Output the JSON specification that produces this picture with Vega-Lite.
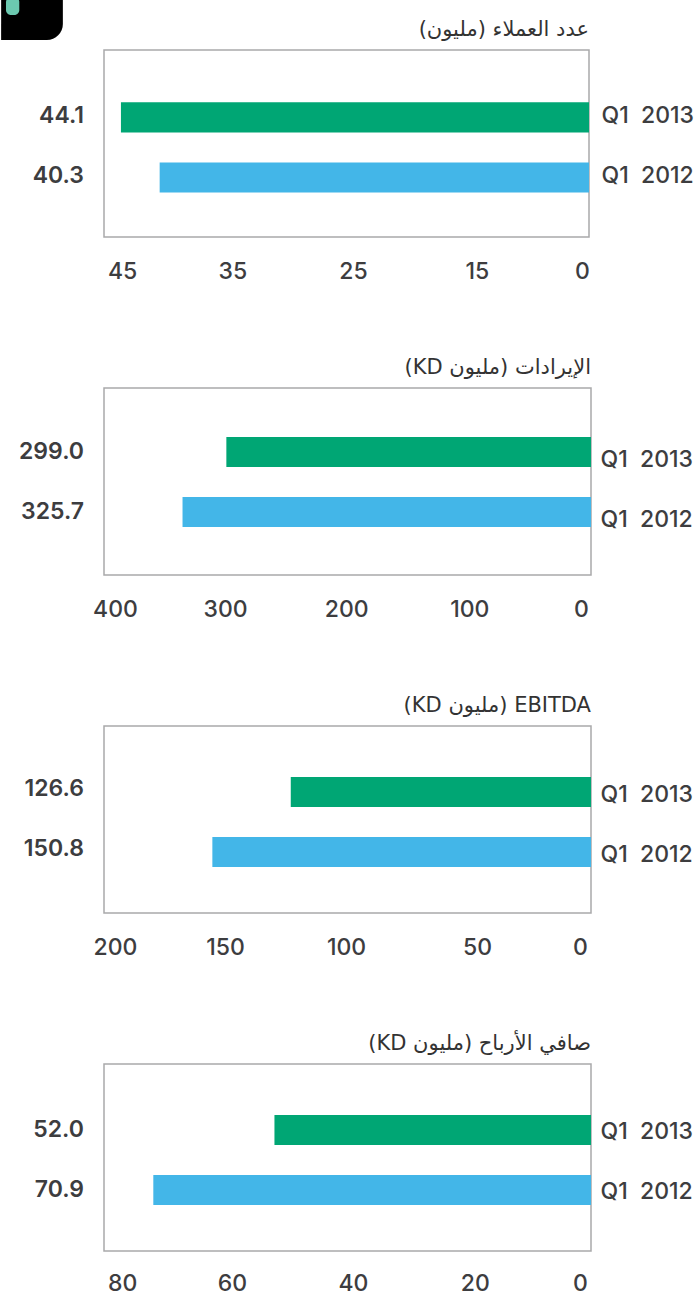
{"$schema":"https://vega.github.io/schema/vega-lite/v6.json","padding":{"left":0,"top":-4,"right":0,"bottom":0},"bounds":"flush","spacing":151,"background":"#ffffff","config":{"view":{"stroke":"#a9a9ab","strokeWidth":1.5},"axis":{"domain":false,"ticks":false,"grid":false,"title":null,"labelFont":"Inter","labelFontSize":23,"labelFontWeight":500,"labelColor":"#3d3d3f","labelFlush":false},"title":{"font":"DejaVu Sans","fontSize":21,"fontWeight":"normal","color":"#333333","anchor":"end","frame":"group","offset":10},"text":{"font":"Inter"}},
"vconcat":[
{"title":{"text":"\u202bعدد العملاء (مليون)\u202c","offset":-43},"width":485,"height":187,"data":{"values":[{"period":"Q1\u00a0\u00a02013","value":43.6,"label":"44.1"},{"period":"Q1\u00a0\u00a02012","value":40.4,"label":"40.3"}]},
"layer":[
{"mark":{"type":"bar"},"encoding":{"y":{"field":"period","type":"nominal","sort":null,"scale":{"domain":["Q1\u00a0\u00a02013","Q1\u00a0\u00a02012"],"paddingInner":0.5,"paddingOuter":0.808,"align":0.54},"axis":{"orient":"right","labelPadding":12,"labelOffset":-1}},"x":{"field":"value","type":"quantitative","scale":{"domain":[0,15,25,35,45],"range":[485,364,243,121,0]},"axis":{"values":[0.87,13.9,24.5,34.4,43.5],"labelPadding":23,"labelExpr":"datum.value>40?'45':datum.value>30?'35':datum.value>20?'25':datum.value>10?'15':'0'"}},"color":{"field":"period","type":"nominal","legend":null,"scale":{"domain":["Q1\u00a0\u00a02013","Q1\u00a0\u00a02012"],"range":["#00a674","#43b6e8"]}}}},
{"mark":{"type":"text","align":"right","dx":-20,"dy":-1,"fontSize":23,"fontWeight":600,"color":"#3d3d3f"},"encoding":{"y":{"field":"period","type":"nominal","sort":null,"scale":{"type":"band","domain":["Q1\u00a0\u00a02013","Q1\u00a0\u00a02012"],"paddingInner":0.5,"paddingOuter":0.808,"align":0.54},"axis":null},"x":{"datum":45,"type":"quantitative"},"text":{"field":"label"}}},
{"data":{"values":[{"x1":53.5,"x2":48.4,"y1":197,"y2":240,"part":"badge"}]},"mark":{"type":"rect","color":"#000000","cornerRadiusBottomRight":16},"encoding":{"x":{"field":"x1","type":"quantitative"},"x2":{"field":"x2"},"y":{"field":"y1","type":"quantitative","scale":{"domain":[0,187],"range":[187,0]},"axis":null},"y2":{"field":"y2"}}},
{"data":{"values":[{"x1":53.1,"x2":52.0,"y1":222,"y2":240,"part":"leaf"}]},"mark":{"type":"rect","color":"#6cc9b0","cornerRadius":5},"encoding":{"x":{"field":"x1","type":"quantitative"},"x2":{"field":"x2"},"y":{"field":"y1","type":"quantitative","scale":{"domain":[0,187],"range":[187,0]},"axis":null},"y2":{"field":"y2"}}}
],"resolve":{"scale":{"y":"independent"},"axis":{"y":"independent"}}},
{"title":"\u202bالإيرادات (مليون KD)\u202c","width":487,"height":187,"data":{"values":[{"period":"Q1\u00a0\u00a02013","value":299.5,"label":"299.0"},{"period":"Q1\u00a0\u00a02012","value":335.5,"label":"325.7"}]},
"layer":[
{"mark":{"type":"bar"},"encoding":{"y":{"field":"period","type":"nominal","sort":null,"scale":{"domain":["Q1\u00a0\u00a02013","Q1\u00a0\u00a02012"],"paddingInner":0.5,"paddingOuter":0.808,"align":0.505},"axis":{"orient":"right","labelPadding":9,"labelOffset":8}},"x":{"field":"value","type":"quantitative","scale":{"domain":[0,400],"range":[487,0]},"axis":{"values":[8.2,100,201,300.6,391],"labelPadding":23,"labelExpr":"datum.value>350?'400':datum.value>250?'300':datum.value>150?'200':datum.value>50?'100':'0'"}},"color":{"field":"period","type":"nominal","legend":null,"scale":{"domain":["Q1\u00a0\u00a02013","Q1\u00a0\u00a02012"],"range":["#00a674","#43b6e8"]}}}},
{"mark":{"type":"text","align":"right","dx":-20,"fontSize":23,"fontWeight":600,"color":"#3d3d3f"},"encoding":{"y":{"field":"period","type":"nominal","sort":null},"x":{"datum":400,"type":"quantitative"},"text":{"field":"label"}}}
]},
{"title":"\u202bEBITDA (مليون KD)\u202c","width":487,"height":187,"data":{"values":[{"period":"Q1\u00a0\u00a02013","value":123.3,"label":"126.6"},{"period":"Q1\u00a0\u00a02012","value":155.5,"label":"150.8"}]},
"layer":[
{"mark":{"type":"bar"},"encoding":{"y":{"field":"period","type":"nominal","sort":null,"scale":{"domain":["Q1\u00a0\u00a02013","Q1\u00a0\u00a02012"],"paddingInner":0.5,"paddingOuter":0.808,"align":0.526},"axis":{"orient":"right","labelPadding":9,"labelOffset":3}},"x":{"field":"value","type":"quantitative","scale":{"domain":[0,200],"range":[487,0]},"axis":{"values":[4.5,46.8,100.6,150.3,195.5],"labelPadding":23,"labelExpr":"datum.value>175?'200':datum.value>125?'150':datum.value>75?'100':datum.value>25?'50':'0'"}},"color":{"field":"period","type":"nominal","legend":null,"scale":{"domain":["Q1\u00a0\u00a02013","Q1\u00a0\u00a02012"],"range":["#00a674","#43b6e8"]}}}},
{"mark":{"type":"text","align":"right","dx":-20,"dy":-3,"fontSize":23,"fontWeight":600,"color":"#3d3d3f"},"encoding":{"y":{"field":"period","type":"nominal","sort":null},"x":{"datum":200,"type":"quantitative"},"text":{"field":"label"}}}
]},
{"title":"\u202bصافي الأرباح (مليون KD)\u202c","width":487,"height":187,"data":{"values":[{"period":"Q1\u00a0\u00a02013","value":52.0,"label":"52.0"},{"period":"Q1\u00a0\u00a02012","value":71.9,"label":"70.9"}]},
"layer":[
{"mark":{"type":"bar"},"encoding":{"y":{"field":"period","type":"nominal","sort":null,"scale":{"domain":["Q1\u00a0\u00a02013","Q1\u00a0\u00a02012"],"paddingInner":0.5,"paddingOuter":0.808,"align":0.526},"axis":{"orient":"right","labelPadding":9,"labelOffset":2}},"x":{"field":"value","type":"quantitative","scale":{"domain":[0,80],"range":[487,0]},"axis":{"values":[1.8,19.1,39.1,59,77],"labelPadding":21,"labelExpr":"datum.value>70?'80':datum.value>50?'60':datum.value>30?'40':datum.value>10?'20':'0'"}},"color":{"field":"period","type":"nominal","legend":null,"scale":{"domain":["Q1\u00a0\u00a02013","Q1\u00a0\u00a02012"],"range":["#00a674","#43b6e8"]}}}},
{"mark":{"type":"text","align":"right","dx":-20,"fontSize":23,"fontWeight":600,"color":"#3d3d3f"},"encoding":{"y":{"field":"period","type":"nominal","sort":null},"x":{"datum":80,"type":"quantitative"},"text":{"field":"label"}}}
]}
]}
